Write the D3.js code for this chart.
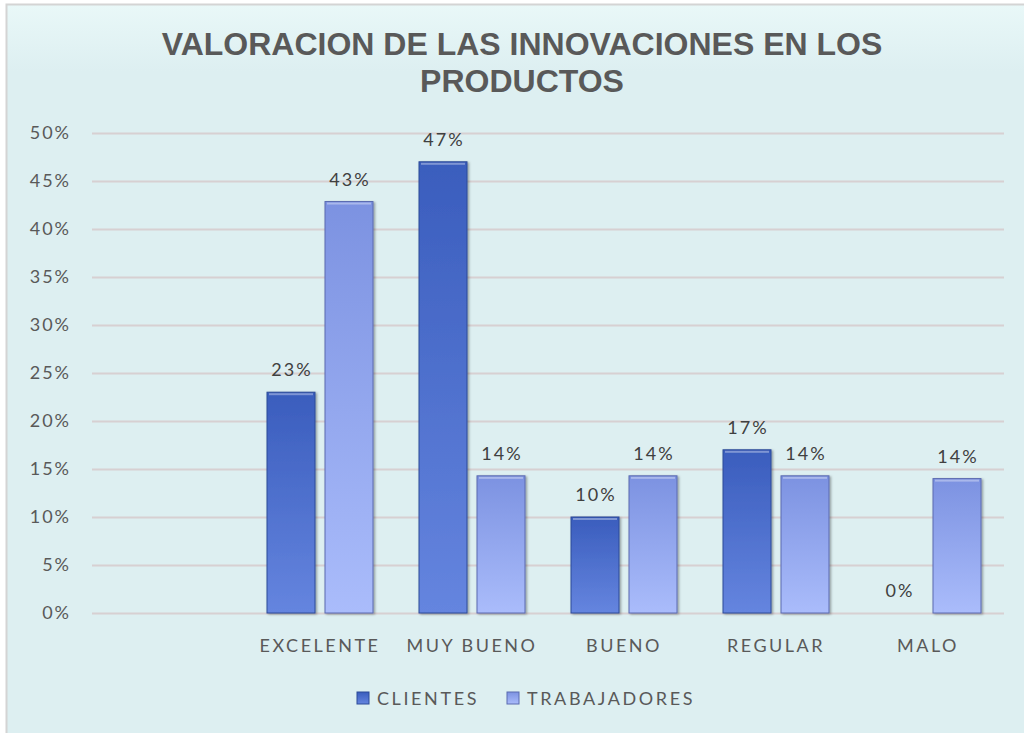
<!DOCTYPE html>
<html>
<head>
<meta charset="utf-8">
<script src="https://cdn.jsdelivr.net/npm/d3@7"></script>
<style>
  body { margin: 0; background: #fff; }
  svg { display: block; }
</style>
</head>
<body>
<script>
    // chart data
    const categories = ["", "EXCELENTE", "MUY BUENO", "BUENO", "REGULAR", "MALO"];
    const seriesNames = ["CLIENTES", "TRABAJADORES"];
    const clientes = [null, 0.23, 0.47, 0.10, 0.17, 0];
    const trabajadores = [null, 0.4286, 0.1429, 0.1429, 0.1429, 0.14];
    const yTicks = [0, 0.05, 0.10, 0.15, 0.20, 0.25, 0.30, 0.35, 0.40, 0.45, 0.50];
    const titleLines = ["VALORACION DE LAS INNOVACIONES EN LOS", "PRODUCTOS"];

    const W = 1024, H = 733;
    const plotLeft = 92, plotRight = 1004, plotTop = 133, plotBottom = 613;
    const labelFont = "Lato, 'Open Sans', sans-serif";

    const svg = d3.select('body')
                  .append('svg')
                  .attr('width', W)
                  .attr('height', H);

    const defs = svg.append('defs');

    // background gradient, lighter near the top
    const bg = defs.append('linearGradient')
                   .attr('id', 'bg')
                   .attr('x1', 0).attr('y1', 0).attr('x2', 0).attr('y2', 1);
    bg.append('stop').attr('offset', '0%').attr('stop-color', '#e9f8f8');
    bg.append('stop').attr('offset', '9%').attr('stop-color', '#ddeff1');
    bg.append('stop').attr('offset', '100%').attr('stop-color', '#ddeff1');

    // bar gradients
    const grads = [
      { id: 'gClientes', top: '#3a5dbd', bottom: '#6585df' },
      { id: 'gTrab', top: '#7c92e1', bottom: '#aabcfb' }
    ];
    grads.forEach(g => {
      const lg = defs.append('linearGradient')
                     .attr('id', g.id)
                     .attr('x1', 0).attr('y1', 0).attr('x2', 0).attr('y2', 1);
      lg.append('stop').attr('offset', '0%').attr('stop-color', g.top);
      lg.append('stop').attr('offset', '100%').attr('stop-color', g.bottom);
    });

    const shadow = defs.append('filter').attr('id', 'shadow')
                       .attr('x', '-20%').attr('y', '-5%').attr('width', '150%').attr('height', '115%');
    shadow.append('feDropShadow')
          .attr('dx', 1.5).attr('dy', 1)
          .attr('stdDeviation', 1.2)
          .attr('flood-color', '#000')
          .attr('flood-opacity', 0.35);

    svg.append('rect')
       .attr('x', 0).attr('y', 0).attr('width', W).attr('height', H)
       .attr('fill', '#ffffff');

    svg.append('rect')
       .attr('x', 6.5).attr('y', 4.5)
       .attr('width', W + 10).attr('height', H + 10)
       .attr('fill', 'url(#bg)')
       .attr('stroke', '#d4d4d4')
       .attr('stroke-width', 2);

    // title
    svg.append('g')
       .selectAll('text')
       .data(titleLines)
       .enter()
       .append('text')
       .attr('x', 522)
       .attr('y', (d, i) => 55 + i * 37)
       .attr('text-anchor', 'middle')
       .attr('font-family', "'Liberation Sans', Arial, sans-serif")
       .attr('font-weight', 'bold')
       .attr('font-size', 32)
       .attr('fill', '#595959')
       .text(d => d);

    // scales
    const xScale = d3.scaleBand()
                     .domain(categories)
                     .range([plotLeft, plotRight])
                     .padding(0);

    const xSub = d3.scaleBand()
                   .domain(seriesNames)
                   .range([0, xScale.bandwidth()])
                   .paddingInner(10 / 58)
                   .paddingOuter(23 / 58);

    const yScale = d3.scaleLinear()
                     .domain([0, 0.5])
                     .range([plotBottom, plotTop]);

    // grid lines + y labels
    const yAxis = d3.axisLeft(yScale)
                    .tickValues(yTicks)
                    .tickSize(-(plotRight - plotLeft))
                    .tickPadding(21)
                    .tickFormat(d3.format('.0%'));

    const yg = svg.append('g')
                  .attr('transform', 'translate(' + plotLeft + ',0)')
                  .call(yAxis);
    yg.select('.domain').remove();
    yg.selectAll('.tick line')
      .attr('stroke', '#d7d0d2')
      .attr('stroke-width', 2);
    yg.selectAll('.tick text')
      .attr('font-family', labelFont)
      .attr('font-size', 18)
      .attr('letter-spacing', 2)
      .attr('fill', '#595959');

    // x labels
    const xAxis = d3.axisBottom(xScale).tickSize(0).tickPadding(26);
    const xg = svg.append('g')
                  .attr('transform', 'translate(0,' + plotBottom + ')')
                  .call(xAxis);
    xg.select('.domain').remove();
    xg.selectAll('.tick text')
      .attr('font-family', labelFont)
      .attr('font-size', 18)
      .attr('letter-spacing', 2.5)
      .attr('fill', '#595959');

    // bars
    const series = [
      { name: seriesNames[0], values: clientes, fill: 'url(#gClientes)', edge: '#2d4a98' },
      { name: seriesNames[1], values: trabajadores, fill: 'url(#gTrab)', edge: '#5a6bb0' }
    ];

    const rows = [];
    series.forEach(s => {
      s.values.forEach((v, i) => {
        if (v !== null) rows.push({ cat: categories[i], name: s.name, v: v, fill: s.fill, edge: s.edge });
      });
    });

    svg.append('g')
       .selectAll('rect')
       .data(rows.filter(d => d.v > 0))
       .enter()
       .append('rect')
       .attr('x', d => xScale(d.cat) + xSub(d.name))
       .attr('y', d => yScale(d.v))
       .attr('width', xSub.bandwidth())
       .attr('height', d => plotBottom - yScale(d.v))
       .attr('fill', d => d.fill)
       .attr('stroke', d => d.edge)
       .attr('stroke-width', 1)
       .attr('filter', 'url(#shadow)');

    // light strip along the top of each bar
    svg.append('g')
       .selectAll('rect')
       .data(rows.filter(d => d.v > 0))
       .enter()
       .append('rect')
       .attr('x', d => xScale(d.cat) + xSub(d.name) + 2)
       .attr('y', d => yScale(d.v) + 1)
       .attr('width', xSub.bandwidth() - 4)
       .attr('height', 2)
       .attr('fill', '#ffffff')
       .attr('opacity', 0.35);

    // value labels
    svg.append('g')
       .selectAll('text')
       .data(rows)
       .enter()
       .append('text')
       .attr('x', d => xScale(d.cat) + xSub(d.name) + xSub.bandwidth() / 2 + 1)
       .attr('y', d => yScale(d.v) - 16)
       .attr('text-anchor', 'middle')
       .attr('font-family', labelFont)
       .attr('font-size', 18)
       .attr('letter-spacing', 2)
       .attr('fill', '#404040')
       .text(d => d3.format('.0%')(d.v));

    // legend
    const legendX = [357, 507];
    const legend = svg.append('g')
                      .selectAll('g')
                      .data(series)
                      .enter()
                      .append('g')
                      .attr('transform', (d, i) => 'translate(' + legendX[i] + ',692)');
    legend.append('rect')
          .attr('width', 12).attr('height', 12)
          .attr('fill', d => d.fill)
          .attr('stroke', d => d.edge)
          .attr('stroke-width', 1);
    legend.append('text')
          .attr('x', 20)
          .attr('y', 13)
          .attr('font-family', labelFont)
          .attr('font-size', 18)
          .attr('letter-spacing', 2.6)
          .attr('fill', '#595959')
          .text(d => d.name);
</script>
</body>
</html>
